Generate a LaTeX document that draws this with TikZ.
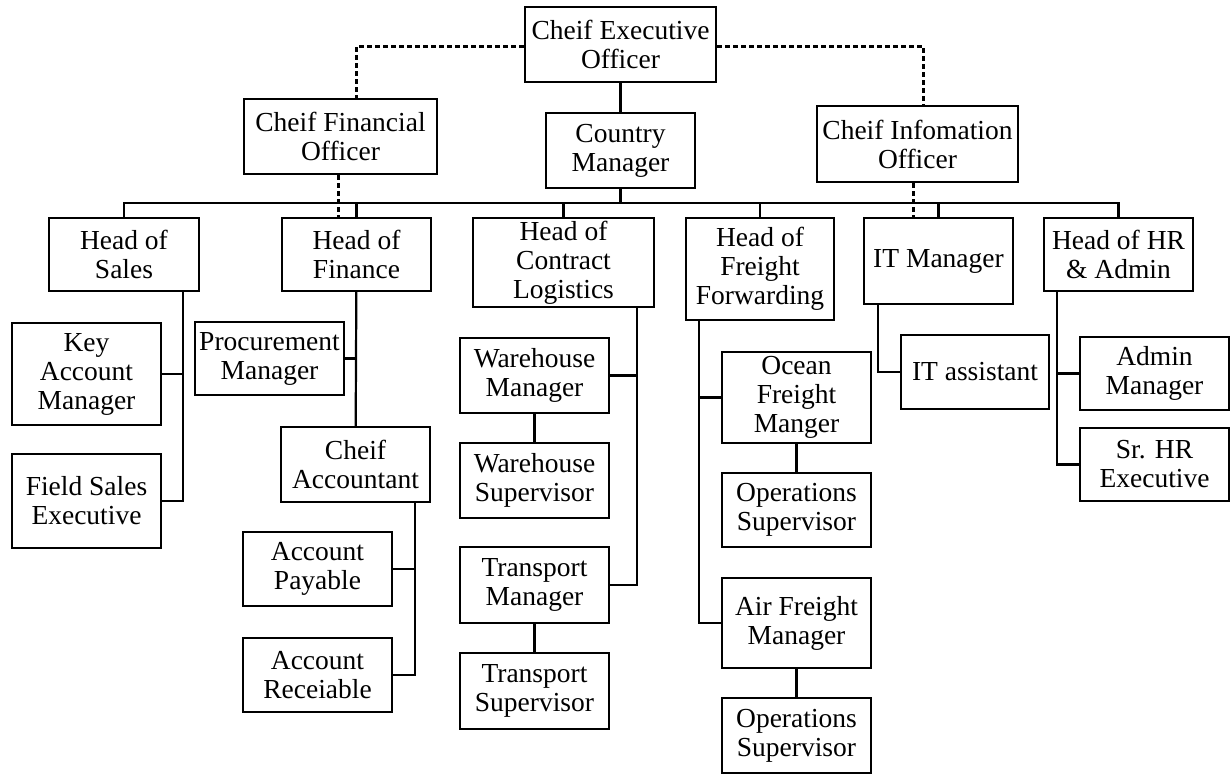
\documentclass[tikz,border=0pt]{standalone}
\usepackage{fontspec}
\setmainfont{Liberation Serif}
\tikzset{
  box/.style={draw, line width=2.2pt, inner sep=0pt, align=center,
    font=\fontsize{27.5}{29}\selectfont},
  link/.style={line width=2.2pt},
  dlink/.style={line width=2.2pt, dash pattern=on 5pt off 3pt},
}
\newcommand\bx[6]{\node[box, minimum width={(#4-#2)*1pt}, minimum height={(#5-#3)*1pt}] (#1) at ({(#2+#4)/2},{(#3+#5)/2}) {#6};}
\begin{document}
\begin{tikzpicture}[x=1pt,y=-1pt]
\useasboundingbox (0,0) rectangle (1230,775);
% top level
\bx{ceo}{525}{7}{716}{82}{Cheif Executive\\Officer}
\bx{cfo}{244}{99}{437}{174}{Cheif Financial\\Officer}
\bx{cm}{546}{113}{695}{188}{Country\\Manager}
\bx{cio}{817}{106}{1018}{182}{Cheif Infomation\\Officer}
% heads
\bx{hs}{49}{218}{199}{291}{Head of\\Sales}
\bx{hf}{282}{218}{431}{291}{Head of\\Finance}
\bx{hcl}{473}{218}{654}{307}{Head of\\Contract\\Logistics}
\bx{hff}{686}{218}{834}{320}{Head of\\Freight\\Forwarding}
\bx{itm}{864}{218}{1013}{304}{IT Manager}
\bx{hhr}{1044}{218}{1193}{291}{Head of HR\\\& Admin}
% staff
\bx{kam}{12}{323}{161}{425}{Key\\Account\\Manager}
\bx{fse}{12}{454}{161}{548}{Field Sales\\Executive}
\bx{pm}{195}{322}{344}{395}{Procurement\\Manager}
\bx{ca}{281}{427}{430}{502}{Cheif\\Accountant}
\bx{ap}{243}{532}{392}{606}{Account\\Payable}
\bx{ar}{243}{638}{392}{712}{Account\\Receiable}
\bx{wm}{460}{338}{609}{413}{Warehouse\\Manager}
\bx{ws}{460}{443}{609}{518}{Warehouse\\Supervisor}
\bx{tm}{460}{547}{609}{623}{Transport\\Manager}
\bx{ts}{460}{653}{609}{729}{Transport\\Supervisor}
\bx{ofm}{722}{352}{871}{443}{Ocean\\Freight\\Manger}
\bx{osa}{722}{473}{871}{547}{Operations\\Supervisor}
\bx{afm}{722}{578}{871}{668}{Air Freight\\Manager}
\bx{osb}{722}{698}{871}{773}{Operations\\Supervisor}
\bx{ita}{901}{335}{1049}{409}{IT assistant}
\bx{am}{1080}{337}{1229}{410}{Admin\\Manager}
\bx{shr}{1080}{428}{1229}{501}{Sr. HR\\Executive}
% dashed links
\draw[dlink] ([yshift=-2pt]ceo.west) -| ([xshift=16pt]cfo.north);
\draw[dlink] ([yshift=-2pt]ceo.east) -| ([xshift=6pt]cio.north);
\draw[dlink] ([xshift=-2pt]cfo.south) -- ([xshift=-2pt]cfo.south |- hf.north);
\draw[dlink] ([xshift=-4pt]cio.south) -- ([xshift=-4pt]cio.south |- itm.north);
% main bus
\coordinate (bus) at (0,203);
\draw[link] (ceo) -- (cm);
\draw[link] (cm.south) -- (cm.south |- bus);
\draw[link] (hs.north) -- (hs.north |- bus) -- (hhr.north |- bus) -- (hhr.north);
\foreach \n in {hf,hcl,hff,itm} \draw[link] (\n.north) -- (\n.north |- bus);
% sales
\coordinate (sv) at ([xshift=-17pt]hs.south east);
\draw[link] (sv) |- (fse.east);
\draw[link] (kam.east) -- (kam.east -| sv);
% finance
\draw[link] (hf) -- (ca);
\draw[link] (pm.east) -- (pm.east -| hf.south);
\coordinate (cav) at ([xshift=-16pt]ca.south east);
\draw[link] (cav) |- (ar.east);
\draw[link] (ap.east) -- (ap.east -| cav);
% contract logistics
\coordinate (clv) at ([xshift=-18pt]hcl.south east);
\draw[link] (clv) |- (tm.east);
\draw[link] (wm.east) -- (wm.east -| clv);
\draw[link] (wm) -- (ws);
\draw[link] (tm) -- (ts);
% freight forwarding
\coordinate (ffv) at ([xshift=14pt]hff.south west);
\draw[link] (ffv) |- (afm.west);
\draw[link] (ofm.west) -- (ofm.west -| ffv);
\draw[link] (ofm) -- (osa);
\draw[link] (afm) -- (osb);
% IT
\draw[link] ([xshift=15pt]itm.south west) |- (ita.west);
% HR
\coordinate (hrv) at ([xshift=14pt]hhr.south west);
\draw[link] (hrv) |- (shr.west);
\draw[link] (am.west) -- (am.west -| hrv);
\end{tikzpicture}
\end{document}
